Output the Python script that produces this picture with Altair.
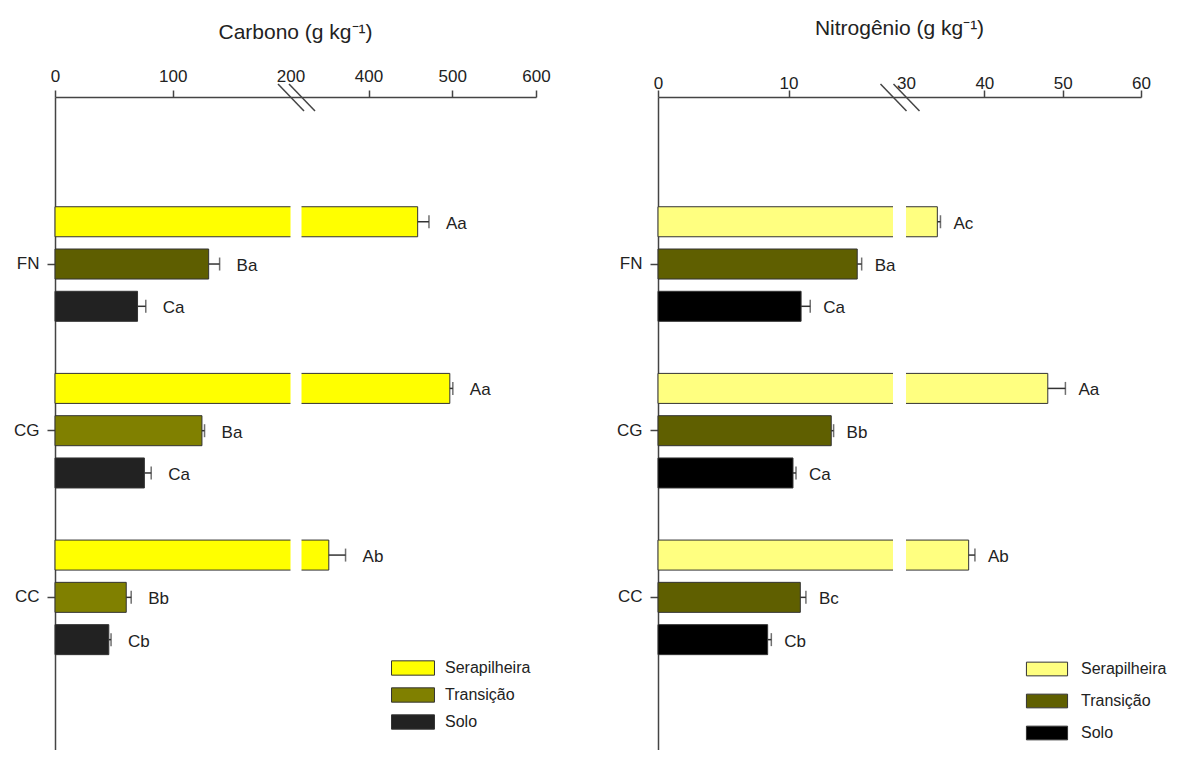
import altair as alt
import pandas as pd

grupos = ["FN", "CG", "CC"]
camadas = ["Serapilheira", "Transição", "Solo"]

# Carbono (g kg-1)
c_ser = [458.7, 497.1, 352.6]
c_ser_err = [13.5, 3.6, 20.0]
c_ser_let = ["Aa", "Aa", "Ab"]
c_tra = [130.5, 124.8, 60.5]
c_tra_err = [9.3, 2.2, 4.2]
c_tra_let = ["Ba", "Ba", "Bb"]
c_sol = [70.1, 75.9, 45.7]
c_sol_err = [7.0, 5.8, 1.9]
c_sol_let = ["Ca", "Ca", "Cb"]

# Nitrogênio (g kg-1)
n_ser = [34.0, 48.1, 38.0]
n_ser_err = [0.4, 2.25, 0.8]
n_ser_let = ["Ac", "Aa", "Ab"]
n_tra = [15.26, 13.27, 10.9]
n_tra_err = [0.34, 0.18, 0.43]
n_tra_let = ["Ba", "Bb", "Bc"]
n_sol = [10.96, 10.34, 8.4]
n_sol_err = [0.7, 0.23, 0.28]
n_sol_let = ["Ca", "Ca", "Cb"]

c_ticks = [0, 100, 200, 400, 500, 600]
n_ticks = [0, 10, 30, 40, 50, 60]
c_break = [200, 320]
n_break = [18, 30]

H = 653


def frame(vals, errs, lets):
    rows = []
    for cam, v, e, l in zip(camadas, vals, errs, lets):
        for g, vi, ei, li in zip(grupos, v, e, l):
            rows.append(dict(grupo=g, camada=cam, valor=vi, sup=vi + ei, letra=li))
    return pd.DataFrame(rows)


def panel(df, title, brk, ticks, rng, colors, fn_tra, yo_pi, yo_po, leg, label_dx, W, lab_pad, hide_tick, t_off):
    xscale = alt.Scale(domain=[ticks[0], brk[0], brk[1], ticks[-1]], range=rng, nice=False, zero=False)
    yscale = alt.Scale(domain=grupos, paddingInner=0, paddingOuter=0.459, align=0.547)
    yoff = alt.YOffset("camada:N", scale=alt.Scale(domain=camadas, paddingInner=yo_pi, paddingOuter=yo_po))
    xaxis = alt.Axis(orient="top", values=ticks, title=None, labelFontSize=17, labelColor="#222",
                     tickSize=7, tickColor="#444", tickWidth=1.5, domainColor="#444", domainWidth=1.5,
                     labelPadding=lab_pad, grid=False, labelFlush=False, labelOverlap=False, format="d",
                     tickOpacity={"condition": {"test": f"datum.value === {hide_tick}", "value": 0}, "value": 1})
    yaxis = alt.Axis(title=None, labelFontSize=17, labelColor="#222", tickSize=8, tickColor="#444",
                     tickWidth=1.5, domainColor="#444", domainWidth=1.5, labelPadding=8, grid=False)
    col = alt.Color("camada:N", scale=alt.Scale(domain=camadas, range=colors), legend=leg)
    if fn_tra:
        col = alt.condition("datum.grupo === 'FN' && datum.camada === 'Transição'", alt.value(fn_tra), col)
    base = alt.Chart(df)
    bars = base.mark_bar(stroke="#333", strokeWidth=1).encode(
        x=alt.X("valor:Q", scale=xscale, axis=xaxis),
        y=alt.Y("grupo:N", scale=yscale, axis=yaxis),
        yOffset=yoff,
        color=col,
    )
    bdf = pd.DataFrame({"a": [brk[0]], "b": [brk[1]]})
    gap = alt.Chart(bdf).mark_rect(color="white").encode(
        x=alt.X("a:Q", title=None), x2="b:Q", y=alt.value(2), y2=alt.value(H)
    )
    err = base.mark_rule(color="#333", strokeWidth=1.5).encode(
        x=alt.X("valor:Q", title=None), x2="sup:Q", y=alt.Y("grupo:N", title=None), yOffset=yoff
    )
    cap = base.mark_tick(color="#333", thickness=1.5, size=13).encode(
        x=alt.X("sup:Q", title=None), y=alt.Y("grupo:N", title=None), yOffset=yoff
    )
    txt = base.mark_text(align="left", baseline="middle", dx=label_dx, dy=2, fontSize=17, color="#222").encode(
        x=alt.X("sup:Q", title=None), y=alt.Y("grupo:N", title=None), yOffset=yoff, text="letra:N"
    )
    kdf = pd.DataFrame({"v": brk})
    slash = alt.Chart(kdf).mark_rule(color="#444", strokeWidth=1.5, xOffset=-12.5, x2Offset=13.5).encode(
        x=alt.X("v:Q", title=None), x2="v:Q", y=alt.value(-13), y2=alt.value(14)
    )
    return alt.layer(bars, gap, err, cap, txt, slash).properties(
        width=W, height=H,
        title=alt.Title(title, fontSize=21, fontWeight="normal", color="#222", anchor="middle", offset=t_off),
    )


leg_c = alt.Legend(title=None, orient="none", legendX=350, legendY=563, direction="vertical",
                   symbolType="M-3,-1H3V1H-3Z", symbolSize=205, symbolStrokeColor="#333",
                   symbolStrokeWidth=1, labelFontSize=16, labelColor="#222", labelOffset=24, rowPadding=7)
leg_n = alt.Legend(title=None, orient="none", legendX=381, legendY=564, direction="vertical",
                   symbolType="M-3,-1H3V1H-3Z", symbolSize=188, symbolStrokeColor="#333",
                   symbolStrokeWidth=1, labelFontSize=16, labelColor="#222", labelOffset=26, rowPadding=14)

left = panel(frame([c_ser, c_tra, c_sol], [c_ser_err, c_tra_err, c_sol_err], [c_ser_let, c_tra_let, c_sol_let]),
             "Carbono (g kg⁻¹)", c_break, c_ticks, [0, 235.5, 246.5, 481],
             ["#ffff00", "#808000", "#222222"], "#5e5e00", 0.29, 0.616, leg_c, 17, 481, 5, 200, 24)
right = panel(frame([n_ser, n_tra, n_sol], [n_ser_err, n_tra_err, n_sol_err], [n_ser_let, n_tra_let, n_sol_let]),
              "Nitrogênio (g kg⁻¹)", n_break, n_ticks, [0, 235, 248, 483],
              ["#ffff80", "#5f5f00", "#000000"], None, 0.225, 0.569, leg_n, 13, 483, -2, 30, 35)

chart = alt.hconcat(left, right, spacing=65).resolve_scale(color="independent").properties(
    padding={"left": 5, "top": 10, "right": 0, "bottom": 0}
).configure(font="Liberation Sans").configure_view(stroke="transparent", strokeWidth=0)

chart.save("out.html", embed_options={"renderer": "svg", "actions": False})
